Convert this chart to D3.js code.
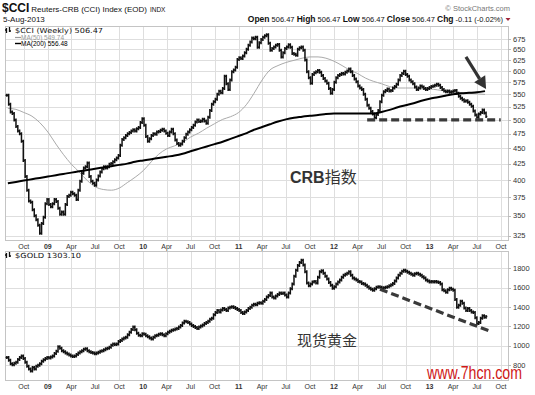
<!DOCTYPE html>
<html>
<head>
<meta charset="utf-8">
<script src="https://cdn.jsdelivr.net/npm/d3@7/dist/d3.min.js"></script>
<style>
body { margin: 0; background: #fff; }
svg { display: block; font-family: "Liberation Sans", Arial, sans-serif; }
</style>
</head>
<body>
<script>
var width = 535, height = 395;

// weekly bars, first bar is the week of 28-Jul-2008, last is 5-Aug-2013
var firstWeek = "2008-07-28";

var cciClose = [
	548, 530, 515, 512, 500, 488, 480, 475, 462, 430,
	405, 385, 370, 368, 358, 350, 345, 338, 328, 340,
	348, 366, 372, 365, 362, 366, 372, 369, 360, 352,
	355, 352, 365, 376, 378, 382, 380, 378, 372, 385,
	398, 410, 418, 420, 426, 405, 398, 395, 392, 400,
	406, 412, 417, 420, 418, 420, 424, 425, 428, 431,
	434, 438, 455, 465, 468, 472, 475, 477, 480, 482,
	480, 484, 486, 495, 502, 490, 470, 462, 466, 472,
	475, 474, 478, 479, 481, 483, 480, 476, 472, 478,
	483, 475, 464, 458, 455, 457, 462, 468, 474, 478,
	482, 486, 490, 496, 500, 497, 498, 501, 498, 494,
	505, 518, 530, 535, 540, 550, 556, 553, 562, 588,
	572, 560, 580, 598, 602, 608, 626, 630, 628, 634,
	642, 650, 660, 668, 678, 676, 680, 655, 666, 674,
	680, 684, 686, 665, 648, 652, 656, 660, 662, 648,
	632, 642, 652, 656, 661, 655, 640, 638, 636, 650,
	654, 656, 648, 625, 598, 585, 573, 592, 596, 598,
	601, 597, 590, 583, 578, 573, 562, 552, 560, 575,
	585, 590, 592, 594, 593, 597, 600, 604, 598, 590,
	582, 576, 567, 563, 560, 550, 540, 528, 522, 516,
	511, 504, 510, 518, 535, 548, 555, 558, 561, 557,
	558, 563, 566, 571, 580, 590, 594, 599, 592, 588,
	580, 576, 572, 565, 560, 563, 567, 565, 562, 560,
	562, 564, 566, 567, 569, 571, 569, 564, 560, 557,
	555, 557, 554, 555, 557, 558, 552, 546, 542, 539,
	536, 537, 534, 530, 526, 517, 509, 505, 511, 514,
	519, 513, 506.47
];

var goldClose = [
	880, 850, 815, 805, 820, 830, 860, 880, 895, 870,
	830, 790, 760, 740, 775, 760, 790, 800, 815, 840,
	855, 870, 880, 875, 885, 895, 920, 945, 990, 975,
	950, 940, 925, 915, 905, 895, 890, 895, 910, 925,
	940, 950, 965, 970, 950, 940, 930, 925, 918, 925,
	935, 945, 950, 960, 970, 975, 985, 1005, 1020, 1015,
	1020, 1045, 1055, 1070, 1080, 1090, 1115, 1140, 1170, 1195,
	1165, 1130, 1110, 1105, 1125, 1120, 1105, 1095, 1080, 1070,
	1090, 1105, 1110, 1120, 1125, 1115, 1105, 1125, 1140, 1150,
	1160, 1165, 1175, 1180, 1195, 1210, 1235, 1255, 1250, 1240,
	1225, 1210, 1200, 1190, 1180, 1195, 1205, 1215, 1230, 1240,
	1255, 1275, 1285, 1320, 1345, 1365, 1350, 1370, 1385, 1375,
	1365, 1390, 1400, 1405, 1395, 1385, 1375, 1365, 1345, 1335,
	1350, 1365, 1385, 1400, 1420, 1430, 1425, 1440, 1445, 1440,
	1460, 1480, 1505, 1520, 1545, 1505, 1495, 1515, 1530, 1545,
	1540, 1545, 1525, 1505, 1545, 1590, 1640, 1720, 1780, 1830,
	1860, 1885, 1835, 1765, 1650, 1620, 1640, 1660, 1665, 1650,
	1710, 1765, 1775, 1750, 1720, 1690, 1655, 1625, 1595, 1610,
	1640, 1660, 1680, 1710, 1730, 1740, 1750, 1765, 1730, 1700,
	1690, 1680, 1665, 1660, 1645, 1640, 1625, 1610, 1595, 1585,
	1575, 1590, 1605, 1610, 1605, 1595, 1600, 1605, 1610, 1620,
	1630, 1645, 1670, 1700, 1730, 1750, 1770, 1780, 1770, 1760,
	1750, 1740, 1730, 1745, 1750, 1740, 1730, 1715, 1700, 1680,
	1670, 1660, 1665, 1660, 1665, 1660, 1655, 1640, 1580, 1570,
	1555, 1580, 1595, 1585, 1575, 1480, 1400, 1420, 1460, 1440,
	1390, 1365, 1385, 1365, 1350, 1345, 1290, 1230, 1240, 1285,
	1310, 1295, 1303.10
];

// moving averages read once a month, Aug 2008 .. Aug 2013
var maStart = "2008-08-01";
var ma50 = [
	522, 520, 514, 507, 495,
	478, 457, 440, 424, 412, 399, 390, 386, 385, 388, 396, 404,
	414, 428, 440, 449, 454, 460, 469, 476, 485, 493, 501, 506,
	514, 530, 552, 580, 602, 612, 619, 624, 629, 632, 632, 629,
	622, 612, 602, 594, 584, 577, 572, 566, 563, 563, 563, 561,
	561, 559, 557, 555, 553, 552, 551, 549.74
];
var ma200 = [
	395, 397, 399, 401, 403,
	405, 407, 409, 411, 413, 415, 417, 419, 421, 423, 425, 428,
	430, 432, 434, 436, 438, 441, 445, 449, 453, 457, 461, 466,
	471, 476, 482, 487, 492, 497, 501, 504, 506, 508, 509, 511,
	512, 512, 512, 512, 512, 512, 515, 519, 524, 528, 532, 537,
	541, 544, 547, 550, 552, 553, 554, 556.48
];

var quarterLabels = ["Oct", "09", "Apr", "Jul", "Oct", "10", "Apr", "Jul", "Oct", "11", "Apr",
	"Jul", "Oct", "12", "Apr", "Jul", "Oct", "13", "Apr", "Jul", "Oct"];
var cciTicks = [325, 350, 375, 400, 425, 450, 475, 500, 525, 550, 575, 600, 625, 650, 675];
var goldTicks = [800, 1000, 1200, 1400, 1600, 1800];

// hand drawn notes: [date, value]
var crbSupport = [["2012-05-07", 500], ["2013-09-30", 500]];
var goldTrend = [["2012-06-25", 1585], ["2013-08-26", 1145]];
var arrowNote = [["2013-05-20", 632], ["2013-08-05", 561]];

var parse = d3.timeParse("%Y-%m-%d");
var w0 = parse(firstWeek);
var weeks = cciClose.map(function (d, i) { return d3.timeWeek.offset(w0, i); });
var m0 = parse(maStart);
var months = ma50.map(function (d, i) { return d3.timeMonth.offset(m0, i); });
var quarters = d3.timeMonth.every(3).range(new Date(2008, 9, 1), new Date(2013, 9, 2));

var left = 5, right = 508;
var top1 = 26, bot1 = 240, top2 = 251, bot2 = 380;

var x = d3.scaleTime()
	.domain([new Date(2008, 6, 21), new Date(2013, 9, 28)])
	.range([left, right]);
var y1 = d3.scaleLog().domain([319.9, 709]).range([bot1, top1]);
var y2 = d3.scaleLinear().domain([647, 1980]).range([bot2, top2]);

var svg = d3.select("body").append("svg")
	.attr("width", width)
	.attr("height", height);

svg.append("rect").attr("width", width).attr("height", height).attr("fill", "#fff");

var defs = svg.append("defs");
defs.append("clipPath").attr("id", "c1").append("rect")
	.attr("x", left).attr("y", top1).attr("width", right - left).attr("height", bot1 - top1);
defs.append("clipPath").attr("id", "c2").append("rect")
	.attr("x", left).attr("y", top2).attr("width", right - left).attr("height", bot2 - top2);

function panel(yS, ticks, t, b) {
	var g = svg.append("g");
	g.selectAll(".hg").data(ticks).enter().append("line")
		.attr("x1", left).attr("x2", right)
		.attr("y1", function (d) { return Math.round(yS(d)) + 0.5; })
		.attr("y2", function (d) { return Math.round(yS(d)) + 0.5; })
		.attr("stroke", "#dedede");
	g.selectAll(".vg").data(quarters).enter().append("line")
		.attr("x1", function (d) { return Math.round(x(d)) + 0.5; })
		.attr("x2", function (d) { return Math.round(x(d)) + 0.5; })
		.attr("y1", t).attr("y2", b)
		.attr("stroke", "#dedede");
	g.append("rect")
		.attr("x", left + 0.5).attr("y", t + 0.5)
		.attr("width", right - left).attr("height", b - t)
		.attr("fill", "none").attr("stroke", "#c4c4c4");
	// right axis
	g.selectAll(".tk").data(ticks).enter().append("line")
		.attr("x1", right).attr("x2", right + 3)
		.attr("y1", function (d) { return Math.round(yS(d)) + 0.5; })
		.attr("y2", function (d) { return Math.round(yS(d)) + 0.5; })
		.attr("stroke", "#bbb");
	g.selectAll(".yl").data(ticks).enter().append("text")
		.attr("x", right + 5)
		.attr("y", function (d) { return yS(d); })
		.attr("dy", "0.35em")
		.attr("font-size", 7.5)
		.attr("fill", "#333")
		.text(function (d) { return d; });
	return g;
}

panel(y1, cciTicks, top1, bot1);
panel(y2, goldTicks, top2, bot2);

// quarter labels under each panel
[bot1 + 8.5, bot2 + 8.5].forEach(function (yy) {
	svg.append("g").selectAll("text").data(quarters).enter().append("text")
		.attr("x", function (d) { return x(d); })
		.attr("y", yy)
		.attr("text-anchor", "middle")
		.attr("font-size", 7)
		.attr("font-weight", function (d, i) { return /^\d/.test(quarterLabels[i]) ? "bold" : "normal"; })
		.attr("fill", "#333")
		.text(function (d, i) { return quarterLabels[i]; });
});

// weekly bars: open taken from the previous close
function bars(closes, yS, clip) {
	var p = "";
	closes.forEach(function (c, i) {
		var o = i ? closes[i - 1] : c;
		var xi = x(weeks[i]);
		var hi = yS(Math.max(o, c)) - 1.5, lo = yS(Math.min(o, c)) + 1.5;
		p += "M" + xi + "," + hi + "V" + lo;
		p += "M" + (xi - 1.3) + "," + yS(o) + "H" + xi;
		p += "M" + xi + "," + yS(c) + "H" + (xi + 1.3);
	});
	svg.append("path")
		.attr("clip-path", "url(#" + clip + ")")
		.attr("d", p)
		.attr("fill", "none")
		.attr("stroke", "#111")
		.attr("stroke-width", 1.5);
}

var maLine = d3.line()
	.x(function (d, i) { return x(months[i]); })
	.y(function (d) { return y1(d); })
	.curve(d3.curveMonotoneX);

svg.append("path").attr("clip-path", "url(#c1)")
	.attr("d", maLine(ma50))
	.attr("fill", "none").attr("stroke", "#aaa").attr("stroke-width", 1);

bars(cciClose, y1, "c1");
bars(goldClose, y2, "c2");

svg.append("path").attr("clip-path", "url(#c1)")
	.attr("d", maLine(ma200))
	.attr("fill", "none").attr("stroke", "#000").attr("stroke-width", 2);

// dashed notes
function dashed(pts, yS) {
	svg.append("line")
		.attr("x1", x(parse(pts[0][0]))).attr("y1", yS(pts[0][1]))
		.attr("x2", x(parse(pts[1][0]))).attr("y2", yS(pts[1][1]))
		.attr("stroke", "#3a3a3a").attr("stroke-width", 3.2)
		.attr("stroke-dasharray", "8,4");
}
dashed(crbSupport, y1);
dashed(goldTrend, y2);

// arrow
(function () {
	var ax = x(parse(arrowNote[0][0])), ay = y1(arrowNote[0][1]);
	var bx = x(parse(arrowNote[1][0])), by = y1(arrowNote[1][1]);
	var ang = Math.atan2(by - ay, bx - ax), hl = 12, hw = 6.5;
	var cx = bx - hl * Math.cos(ang), cy = by - hl * Math.sin(ang);
	svg.append("line")
		.attr("x1", ax).attr("y1", ay).attr("x2", cx).attr("y2", cy)
		.attr("stroke", "#333").attr("stroke-width", 3.2);
	var px = -Math.sin(ang) * hw, py = Math.cos(ang) * hw;
	svg.append("path")
		.attr("d", "M" + bx + "," + by + "L" + (cx + px) + "," + (cy + py) + "L" + (cx - px) + "," + (cy - py) + "Z")
		.attr("fill", "#333");
})();

// header
var hd = svg.append("text").attr("x", 2).attr("y", 12).attr("fill", "#111");
hd.append("tspan").attr("font-size", 12).attr("font-weight", "bold").text("$CCI");
hd.append("tspan").attr("font-size", 8).attr("dx", 2).text("Reuters-CRB (CCI) Index (EOD)");
hd.append("tspan").attr("font-size", 6.5).attr("dx", 3).text("INDX");

svg.append("text").attr("x", 3).attr("y", 21.5).attr("font-size", 8).attr("fill", "#111").text("5-Aug-2013");

svg.append("text").attr("x", 510).attr("y", 11).attr("text-anchor", "end")
	.attr("font-size", 7.5).attr("fill", "#777").text("\u00a9 StockCharts.com");

var q = svg.append("text").attr("x", 503).attr("y", 22).attr("text-anchor", "end")
	.attr("font-size", 8).attr("fill", "#111");
[["Open", 1], [" 506.47 ", 0], ["High", 1], [" 506.47 ", 0], ["Low", 1], [" 506.47 ", 0],
	["Close", 1], [" 506.47 ", 0], ["Chg", 1], [" -0.11 (-0.02%)", 0]].forEach(function (s) {
	q.append("tspan").attr("font-weight", s[1] ? "bold" : "normal")
		.attr("font-size", s[1] ? 8.5 : 7.5).text(s[0]);
});
svg.append("path").attr("d", "M505.5,18L510.5,18L508,21Z").attr("fill", "#a0263a");

// legends
function icon(ix, iy) {
	svg.append("path")
		.attr("d", "M" + ix + "," + (iy - 5) + "V" + iy + "M" + (ix - 1.5) + "," + (iy - 3) + "H" + ix +
			"M" + (ix + 3) + "," + (iy - 6) + "V" + (iy - 1) + "M" + (ix + 3) + "," + (iy - 2) + "H" + (ix + 4.5))
		.attr("stroke", "#111").attr("stroke-width", 1.3).attr("fill", "none");
}
icon(6.5, 33);
svg.append("text").attr("x", 15).attr("y", 33).attr("font-family", "DejaVu Sans")
	.attr("font-size", 7).attr("fill", "#111").attr("textLength", 88).attr("lengthAdjust", "spacingAndGlyphs")
	.text("$CCI (Weekly) 506.47");
svg.append("line").attr("x1", 15).attr("x2", 21).attr("y1", 37.5).attr("y2", 37.5).attr("stroke", "#999").attr("stroke-width", 1.2);
svg.append("text").attr("x", 21).attr("y", 40).attr("font-size", 6.5).attr("fill", "#999").text("MA(50) 549.74");
svg.append("line").attr("x1", 15).attr("x2", 21).attr("y1", 43.5).attr("y2", 43.5).attr("stroke", "#000").attr("stroke-width", 1.4);
svg.append("text").attr("x", 21).attr("y", 46).attr("font-size", 6.5).attr("fill", "#000").text("MA(200) 556.48");

icon(6.5, 258);
svg.append("text").attr("x", 15).attr("y", 258).attr("font-family", "DejaVu Sans")
	.attr("font-size", 7).attr("fill", "#111").attr("textLength", 66).attr("lengthAdjust", "spacingAndGlyphs")
	.text("$GOLD 1303.10");

// chinese notes
var t1 = svg.append("text").attr("x", 290).attr("y", 183).attr("fill", "#333").attr("font-size", 16);
t1.append("tspan").attr("font-weight", "bold").text("CRB");
t1.append("tspan").attr("font-family", "Noto Sans CJK SC").text("指数");
svg.append("text").attr("x", 297).attr("y", 346).attr("fill", "#333").attr("font-size", 15)
	.attr("font-family", "Noto Sans CJK SC").text("现货黄金");

svg.append("text").attr("x", 427).attr("y", 378.5).attr("fill", "#d01818").attr("font-size", 18)
	.attr("textLength", 95).attr("lengthAdjust", "spacingAndGlyphs").text("www.7hcn.com");
</script>
</body>
</html>
